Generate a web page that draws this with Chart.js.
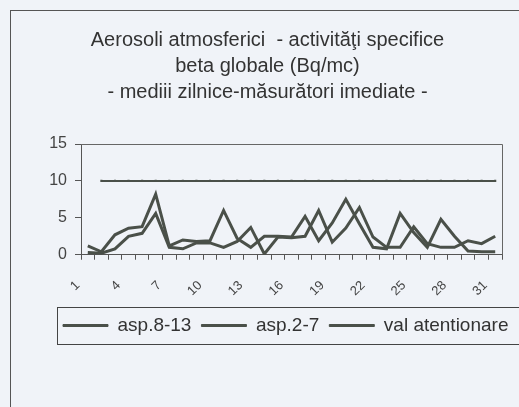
<!DOCTYPE html>
<html><head><meta charset="utf-8">
<script src="https://cdn.jsdelivr.net/npm/chart.js@4.4.1/dist/chart.umd.min.js"></script>
<style>html,body{margin:0;padding:0;background:#f0f3f8;}#wrap{width:519px;height:407px;}</style>
</head><body><div id="wrap"><canvas id="c" width="519" height="407"></canvas></div>
<script>
const days = ['1','2','3','4','5','6','7','8','9','10','11','12','13','14','15','16','17','18','19','20','21','22','23','24','25','26','27','28','29','30','31'];
const asp813 = [1.2,0.4,2.7,3.6,3.8,8.2,1.2,2.0,1.8,1.9,6.0,2.2,1.0,2.5,2.5,2.4,5.2,1.9,4.3,7.5,4.2,1.0,0.8,5.6,3.0,1.0,4.8,2.5,0.5,0.4,0.4];
const asp27 = [0.3,0.2,0.8,2.5,2.9,5.6,1.0,0.8,1.6,1.6,1.0,1.8,3.7,0.1,2.4,2.3,2.5,6.0,1.7,3.6,6.4,2.4,1.0,1.0,3.8,1.5,1.0,1.0,1.9,1.5,2.5];
const valAtentionare = [null,10,10,10,10,10,10,10,10,10,10,10,10,10,10,10,10,10,10,10,10,10,10,10,10,10,10,10,10,10,10];
const seriesNames = ['asp.8-13','asp.2-7','val atentionare'];
const titleLines = ['Aerosoli atmosferici  - activităţi specifice','beta globale (Bq/mc)','- mediii zilnice-măsurători imediate -'];
const yMin = 0, yMax = 15, yStep = 5;

const FONT = "'Liberation Sans', Arial, sans-serif";
const LINE = '#4a5049';

const decor = {
  id: 'decor',
  beforeDraw(chart) {
    const ctx = chart.ctx;
    ctx.save();
    ctx.fillStyle = '#f0f3f8';
    ctx.fillRect(0, 0, chart.width, chart.height);
    ctx.strokeStyle = '#555';
    ctx.lineWidth = 1;
    ctx.strokeRect(10.5, 10.5, 540, 420);
    ctx.restore();
    const lg = chart.legend;
    if (lg && !lg._shifted) { lg.left += 37; lg.top -= 11; lg.bottom -= 11; lg._shifted = true; }
  },
  afterDraw(chart) {
    const ctx = chart.ctx, a = chart.chartArea;
    ctx.save();
    ctx.strokeStyle = '#666';
    ctx.lineWidth = 1;
    ctx.beginPath();
    ctx.moveTo(a.left, Math.round(a.top) + 0.5);
    ctx.lineTo(Math.round(a.right) + 0.5, Math.round(a.top) + 0.5);
    ctx.lineTo(Math.round(a.right) + 0.5, a.bottom);
    ctx.stroke();
    const lg = chart.legend;
    ctx.strokeStyle = '#444';
    ctx.strokeRect(Math.round(lg.left + 4) + 0.5, Math.round(lg.top + 1) + 0.5, 600, Math.round(lg.height - 2));
    ctx.restore();
  }
};

new Chart(document.getElementById('c'), {
  type: 'line',
  data: {
    labels: days,
    datasets: [
      { label: seriesNames[0], data: asp813, borderColor: LINE, backgroundColor: LINE, borderWidth: 3, pointRadius: 0, tension: 0 },
      { label: seriesNames[1], data: asp27, borderColor: LINE, backgroundColor: LINE, borderWidth: 3, pointRadius: 0, tension: 0 },
      { label: seriesNames[2], data: valAtentionare, borderColor: LINE, backgroundColor: LINE, borderWidth: 2, pointRadius: 1.5, pointStyle: 'rect', pointBorderWidth: 0, tension: 0 }
    ]
  },
  options: {
    responsive: false,
    animation: false,
    layout: { padding: { left: 16, right: 0, top: 0, bottom: 51 } },
    scales: {
      x: {
        offset: true,
        afterFit: s => { s.paddingLeft = 0; s.paddingRight = 0; },
        grid: { display: true, drawOnChartArea: false, offset: true, tickLength: 5, color: '#555' },
        border: { display: true, color: '#555', width: 1 },
        ticks: {
          autoSkip: false, minRotation: 45, maxRotation: 45, padding: 18, labelOffset: -10,
          color: '#444', font: { family: FONT, size: 13 },
          callback: (v, i) => (i % 3 === 0 ? days[i] : '')
        }
      },
      y: {
        min: yMin, max: yMax,
        afterFit: s => { s.width = 65; },
        grid: { display: true, drawOnChartArea: false, tickLength: 6, color: '#555' },
        border: { display: true, color: '#555', width: 1 },
        ticks: { stepSize: yStep, padding: 8, color: '#444', font: { family: FONT, size: 16 } }
      },
      yr: {
        position: 'right', min: yMin, max: yMax,
        afterFit: s => { s.width = 17; },
        grid: { display: false }, border: { display: false },
        ticks: { display: false }
      }
    },
    plugins: {
      title: {
        display: true, text: titleLines, color: '#333',
        font: { family: FONT, size: 20, weight: 'normal', lineHeight: 1.3 },
        padding: { top: 27, bottom: 39 }
      },
      legend: {
        display: true, position: 'bottom', align: 'start',
        labels: {
          boxWidth: 45, boxHeight: 2, padding: 10, color: '#333', font: { family: FONT, size: 19 },
          generateLabels: (chart) => Chart.defaults.plugins.legend.labels.generateLabels(chart).map(l => Object.assign(l, { lineWidth: 1 }))
        }
      },
      tooltip: { enabled: false }
    }
  },
  plugins: [decor]
});
</script>
</body></html>
